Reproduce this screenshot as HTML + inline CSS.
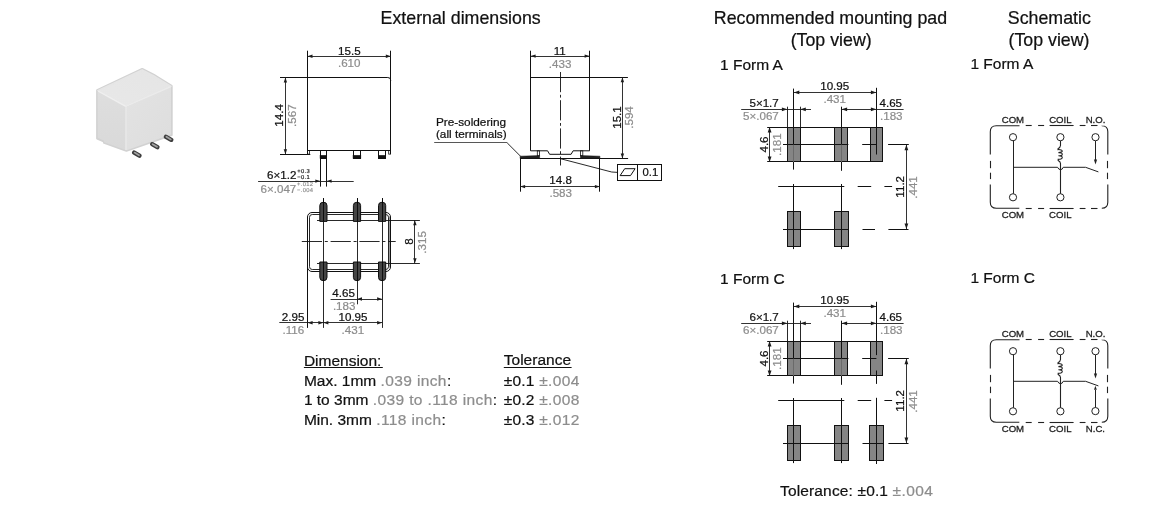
<!DOCTYPE html>
<html><head><meta charset="utf-8"><style>
html,body{margin:0;padding:0;background:#fff;}
body{width:1167px;height:522px;overflow:hidden;}
svg{display:block;font-family:"Liberation Sans", sans-serif;will-change:transform;}
</style></head><body>
<svg width="1167" height="522" viewBox="0 0 1167 522">
<rect x="0" y="0" width="1167" height="522" fill="#fff"/>
<text x="380.6" y="23.6" font-size="17.8" fill="#111" stroke="#111" stroke-width="0.22" text-anchor="start" >External dimensions</text>
<text x="713.8" y="23.9" font-size="17.8" fill="#111" stroke="#111" stroke-width="0.22" text-anchor="start" >Recommended mounting pad</text>
<text x="831.2" y="45.5" font-size="17.8" fill="#111" stroke="#111" stroke-width="0.22" text-anchor="middle" >(Top view)</text>
<text x="1007.8" y="23.8" font-size="17.8" fill="#111" stroke="#111" stroke-width="0.22" text-anchor="start" >Schematic</text>
<text x="1049" y="45.7" font-size="17.8" fill="#111" stroke="#111" stroke-width="0.22" text-anchor="middle" >(Top view)</text>
<defs>
<filter id="soft" x="-10%" y="-10%" width="120%" height="120%"><feGaussianBlur stdDeviation="0.5"/></filter>
<linearGradient id="gl" x1="0" y1="0" x2="0" y2="1"><stop offset="0" stop-color="#dedede"/><stop offset="1" stop-color="#d9d9d9"/></linearGradient>
<linearGradient id="gr" x1="0" y1="0" x2="1" y2="1"><stop offset="0" stop-color="#e3e3e3"/><stop offset="1" stop-color="#dddddd"/></linearGradient>
<linearGradient id="gt" x1="0" y1="1" x2="1" y2="0"><stop offset="0" stop-color="#e8e8e8"/><stop offset="1" stop-color="#e5e5e5"/></linearGradient>
</defs>
<g filter="url(#soft)">
<path d="M97.2,90.2 L142.2,69 L154,75 L157.5,77.2 L171.6,86 L171.6,135 L126.4,150.6 L104.2,142.8 L103.6,141.2 L97.2,138.4 Z" fill="#d2d2d2" stroke="#d2d2d2" stroke-width="2.2" stroke-linejoin="round"/>
<polygon points="97.8,90.6 142.2,69.8 153.8,75.8 157.4,78 171,86.4 125.6,106.2" fill="url(#gt)" stroke="#e6e6e6" stroke-width="1.4" stroke-linejoin="round"/>
<polygon points="97.6,91.4 125.3,106.6 125.6,150 104.4,142.2 103.8,140.6 97.8,137.8" fill="url(#gl)"/>
<polygon points="126.6,106.8 171,86.8 171,134.6 126.6,150.2" fill="url(#gr)"/>
<line x1="126" y1="106.6" x2="126" y2="150" stroke="#ececec" stroke-width="1.4"/>
<line x1="98.2" y1="91.2" x2="125.8" y2="106.4" stroke="#efefef" stroke-width="1.4"/>
<line x1="125.8" y1="106.4" x2="170.8" y2="86.6" stroke="#ebebeb" stroke-width="1.2"/>
</g>
<g filter="url(#soft)" stroke-linecap="round">
<line x1="134.2" y1="152.6" x2="139.4" y2="155.6" stroke="#3e3e3e" stroke-width="4.4"/>
<line x1="152.2" y1="144.2" x2="157.4" y2="147.2" stroke="#3e3e3e" stroke-width="4.4"/>
<line x1="166" y1="136.8" x2="171.2" y2="139.8" stroke="#3e3e3e" stroke-width="4.4"/>
<line x1="134.6" y1="152.6" x2="139" y2="155.2" stroke="#a0a0a0" stroke-width="1.8"/>
<line x1="152.6" y1="144.2" x2="157" y2="146.8" stroke="#a0a0a0" stroke-width="1.8"/>
<line x1="166.4" y1="136.8" x2="170.8" y2="139.4" stroke="#a0a0a0" stroke-width="1.8"/>
</g>
<line x1="307.5" y1="50.7" x2="307.5" y2="154.3" stroke="#111" stroke-width="1.0" />
<line x1="390.5" y1="50.7" x2="390.5" y2="154.0" stroke="#111" stroke-width="1.0" />
<line x1="307.5" y1="56.5" x2="390.8" y2="56.5" stroke="#1c1c1c" stroke-width="0.9" />
<polygon points="307.50,56.30 312.50,54.60 312.50,58.00" fill="#1c1c1c"/>
<polygon points="390.80,56.30 385.80,54.60 385.80,58.00" fill="#1c1c1c"/>
<text x="349.4" y="54.9" font-size="11.6" fill="#111" stroke="#111" stroke-width="0.22" text-anchor="middle" >15.5</text>
<text x="349.2" y="67.3" font-size="11.6" fill="#8d8d8d" stroke="#8d8d8d" stroke-width="0.22" text-anchor="middle" >.610</text>
<path d="M280,77.5 H387.8 Q390.8,77.5 390.8,80.5" fill="none" stroke="#111" stroke-width="1"/>
<line x1="285.5" y1="77.5" x2="285.5" y2="154.3" stroke="#1c1c1c" stroke-width="0.9" />
<polygon points="285.40,77.50 283.70,82.50 287.10,82.50" fill="#1c1c1c"/>
<polygon points="285.40,154.30 283.70,149.30 287.10,149.30" fill="#1c1c1c"/>
<line x1="280" y1="154.5" x2="310.3" y2="154.5" stroke="#111" stroke-width="1.0" />
<text x="0" y="0" font-size="11.6" fill="#111" stroke="#111" stroke-width="0.22" text-anchor="middle" transform="translate(283.2,115.4) rotate(-90)">14.4</text>
<text x="0" y="0" font-size="11.6" fill="#8d8d8d" stroke="#8d8d8d" stroke-width="0.22" text-anchor="middle" transform="translate(296.1,115.6) rotate(-90)">.567</text>
<line x1="307.5" y1="150.5" x2="390.8" y2="150.5" stroke="#111" stroke-width="1.0" />
<rect x="307.5" y="150.5" width="1.9" height="3.6" rx="0" fill="none" stroke="#111" stroke-width="0.8" />
<rect x="388.7" y="150.5" width="1.9" height="3.6" rx="0" fill="none" stroke="#111" stroke-width="0.8" />
<rect x="320.5" y="150.5" width="6.0" height="8.0" rx="0" fill="none" stroke="#111" stroke-width="1" />
<rect x="320.1" y="155.4" width="6.5" height="3.0" rx="0" fill="#111" stroke="#111" stroke-width="0.6" />
<rect x="353.5" y="150.5" width="7.0" height="8.0" rx="0" fill="none" stroke="#111" stroke-width="1" />
<rect x="353.1" y="155.4" width="7.699999999999989" height="3.0" rx="0" fill="#111" stroke="#111" stroke-width="0.6" />
<rect x="378.5" y="150.5" width="7.0" height="8.0" rx="0" fill="none" stroke="#111" stroke-width="1" />
<rect x="378.4" y="155.4" width="7.300000000000011" height="3.0" rx="0" fill="#111" stroke="#111" stroke-width="0.6" />
<line x1="320.5" y1="158.4" x2="320.5" y2="186.6" stroke="#111" stroke-width="1.0" />
<line x1="326.5" y1="158.4" x2="326.5" y2="186.6" stroke="#111" stroke-width="1.0" />
<line x1="258.1" y1="181.5" x2="353.7" y2="181.5" stroke="#1c1c1c" stroke-width="0.9" />
<polygon points="320.30,181.10 315.30,179.40 315.30,182.80" fill="#1c1c1c"/>
<polygon points="326.60,181.10 331.60,179.40 331.60,182.80" fill="#1c1c1c"/>
<text x="267" y="179.1" font-size="11.6" fill="#111" stroke="#111" stroke-width="0.22" text-anchor="start" >6×1.2</text>
<text x="297.2" y="172.6" font-size="5.8" fill="#111" stroke="#111" stroke-width="0.15" text-anchor="start" letter-spacing="0.35" text-rendering="geometricPrecision">+0.3</text>
<text x="297.2" y="178.5" font-size="5.8" fill="#111" stroke="#111" stroke-width="0.15" text-anchor="start" letter-spacing="0.35" text-rendering="geometricPrecision">−0.1</text>
<text x="260.5" y="193.1" font-size="11.6" fill="#8d8d8d" stroke="#8d8d8d" stroke-width="0.22" text-anchor="start" >6×.047</text>
<text x="297.0" y="186.3" font-size="5.8" fill="#8d8d8d" stroke="#8d8d8d" stroke-width="0.15" text-anchor="start" letter-spacing="0.35" text-rendering="geometricPrecision">+.012</text>
<text x="297.0" y="191.8" font-size="5.8" fill="#8d8d8d" stroke="#8d8d8d" stroke-width="0.15" text-anchor="start" letter-spacing="0.35" text-rendering="geometricPrecision">−.004</text>
<line x1="530.5" y1="50.7" x2="530.5" y2="150.8" stroke="#111" stroke-width="1.0" />
<line x1="589.5" y1="50.7" x2="589.5" y2="150.8" stroke="#111" stroke-width="1.0" />
<line x1="530.6" y1="56.5" x2="589.6" y2="56.5" stroke="#1c1c1c" stroke-width="0.9" />
<polygon points="530.60,56.10 535.60,54.40 535.60,57.80" fill="#1c1c1c"/>
<polygon points="589.60,56.10 584.60,54.40 584.60,57.80" fill="#1c1c1c"/>
<text x="559.8" y="54.8" font-size="11.6" fill="#111" stroke="#111" stroke-width="0.22" text-anchor="middle" >11</text>
<text x="560.1" y="67.5" font-size="11.6" fill="#8d8d8d" stroke="#8d8d8d" stroke-width="0.22" text-anchor="middle" >.433</text>
<line x1="530.6" y1="77.5" x2="627.9" y2="77.5" stroke="#111" stroke-width="1.0" />
<line x1="560.5" y1="72" x2="560.5" y2="165.5" stroke="#111" stroke-width="0.9" stroke-dasharray="20.2 2.6 2.8 2.6"/>
<polyline points="530.6,150.8 547.6,150.8 549.6,154.3 571.1,154.3 573.1,150.8 589.6,150.8" stroke="#111" stroke-width="1.0" fill="none" />
<rect x="537.3" y="150.8" width="2.3" height="5" rx="0" fill="none" stroke="#111" stroke-width="0.8" />
<rect x="580.5" y="150.8" width="2.3" height="5" rx="0" fill="none" stroke="#111" stroke-width="0.8" />
<line x1="520.1" y1="158.5" x2="628.1" y2="158.5" stroke="#111" stroke-width="1.0" />
<polygon points="520.1,158.4 520.1,156.2 539.6,155.6 539.6,158.4" stroke="#111" stroke-width="0.5" fill="#222" />
<polygon points="580.5,158.4 580.5,155.6 599.9,156.2 599.9,158.4" stroke="#111" stroke-width="0.5" fill="#222" />
<line x1="520.5" y1="158.4" x2="520.5" y2="191.7" stroke="#111" stroke-width="1.0" />
<line x1="599.5" y1="158.4" x2="599.5" y2="191.7" stroke="#111" stroke-width="1.0" />
<line x1="520.1" y1="186.5" x2="599.9" y2="186.5" stroke="#1c1c1c" stroke-width="0.9" />
<polygon points="520.10,186.60 525.10,184.90 525.10,188.30" fill="#1c1c1c"/>
<polygon points="599.90,186.60 594.90,184.90 594.90,188.30" fill="#1c1c1c"/>
<text x="560.6" y="184.1" font-size="11.6" fill="#111" stroke="#111" stroke-width="0.22" text-anchor="middle" >14.8</text>
<text x="560.7" y="197.1" font-size="11.6" fill="#8d8d8d" stroke="#8d8d8d" stroke-width="0.22" text-anchor="middle" >.583</text>
<line x1="622.5" y1="77.2" x2="622.5" y2="158.4" stroke="#1c1c1c" stroke-width="0.9" />
<polygon points="622.40,77.20 620.70,82.20 624.10,82.20" fill="#1c1c1c"/>
<polygon points="622.40,158.40 620.70,153.40 624.10,153.40" fill="#1c1c1c"/>
<text x="0" y="0" font-size="11.6" fill="#111" stroke="#111" stroke-width="0.22" text-anchor="middle" transform="translate(620.6,117.5) rotate(-90)">15.1</text>
<text x="0" y="0" font-size="11.6" fill="#8d8d8d" stroke="#8d8d8d" stroke-width="0.22" text-anchor="middle" transform="translate(633.0,117.5) rotate(-90)">.594</text>
<text x="435.9" y="126.3" font-size="11.8" fill="#111" stroke="#111" stroke-width="0.22" text-anchor="start" >Pre-soldering</text>
<text x="435.9" y="137.8" font-size="11.8" fill="#111" stroke="#111" stroke-width="0.22" text-anchor="start" >(all terminals)</text>
<line x1="434.2" y1="142.5" x2="507.2" y2="142.5" stroke="#444" stroke-width="0.9" />
<line x1="507.2" y1="142.9" x2="520.4" y2="156.1" stroke="#111" stroke-width="0.9" />
<path d="M560.1,158.6 L607,170.8 Q611,172.4 617.8,172.4" fill="none" stroke="#111" stroke-width="0.9"/>
<rect x="617.5" y="164.5" width="44.0" height="16.0" rx="0" fill="none" stroke="#111" stroke-width="1" />
<line x1="637.5" y1="164.4" x2="637.5" y2="180.2" stroke="#111" stroke-width="1.0" />
<polygon points="620.1,175.6 624.7,168.7 635.1,168.7 630.5,175.6" stroke="#111" stroke-width="1.0" fill="none" />
<text x="642.5" y="176.2" font-size="11.3" fill="#111" stroke="#111" stroke-width="0.22" text-anchor="start" >0.1</text>
<rect x="388.6" y="216.5" width="2" height="51" fill="#9a9a9a"/>
<rect x="307.5" y="212.5" width="83.0" height="59.0" rx="4.5" fill="none" stroke="#111" stroke-width="1" />
<rect x="309.5" y="214.5" width="79.0" height="55.0" rx="2.8" fill="none" stroke="#111" stroke-width="0.9" />
<line x1="307.5" y1="266" x2="307.5" y2="327.9" stroke="#111" stroke-width="1.0" />
<line x1="323.5" y1="198.1" x2="323.5" y2="327.9" stroke="#111" stroke-width="0.9" />
<line x1="357.5" y1="198.1" x2="357.5" y2="304.3" stroke="#111" stroke-width="0.9" />
<line x1="382.5" y1="198.1" x2="382.5" y2="327.9" stroke="#111" stroke-width="0.9" />
<line x1="317" y1="220.5" x2="419.9" y2="220.5" stroke="#111" stroke-width="0.9" />
<line x1="317" y1="263.5" x2="419.9" y2="263.5" stroke="#111" stroke-width="0.9" />
<line x1="301.8" y1="241.5" x2="395.7" y2="241.5" stroke="#111" stroke-width="0.9" stroke-dasharray="20.2 2.8 3 2.8"/>
<path d="M319.79999999999995,221.4 V205.5 Q319.79999999999995,202.2 323.4,202.2 Q327.0,202.2 327.0,205.5 V221.4 Z" fill="#454545" stroke="#111" stroke-width="1"/>
<path d="M319.79999999999995,262.0 V277.4 Q319.79999999999995,280.7 323.4,280.7 Q327.0,280.7 327.0,277.4 V262.0 Z" fill="#454545" stroke="#111" stroke-width="1"/>
<line x1="323.5" y1="198.1" x2="323.5" y2="221.4" stroke="#000" stroke-width="0.8" />
<line x1="323.5" y1="262" x2="323.5" y2="281" stroke="#000" stroke-width="0.8" />
<path d="M353.4,221.4 V205.5 Q353.4,202.2 357.0,202.2 Q360.6,202.2 360.6,205.5 V221.4 Z" fill="#454545" stroke="#111" stroke-width="1"/>
<path d="M353.4,262.0 V277.4 Q353.4,280.7 357.0,280.7 Q360.6,280.7 360.6,277.4 V262.0 Z" fill="#454545" stroke="#111" stroke-width="1"/>
<line x1="357.5" y1="198.1" x2="357.5" y2="221.4" stroke="#000" stroke-width="0.8" />
<line x1="357.5" y1="262" x2="357.5" y2="281" stroke="#000" stroke-width="0.8" />
<path d="M378.5,221.4 V205.5 Q378.5,202.2 382.1,202.2 Q385.70000000000005,202.2 385.70000000000005,205.5 V221.4 Z" fill="#454545" stroke="#111" stroke-width="1"/>
<path d="M378.5,262.0 V277.4 Q378.5,280.7 382.1,280.7 Q385.70000000000005,280.7 385.70000000000005,277.4 V262.0 Z" fill="#454545" stroke="#111" stroke-width="1"/>
<line x1="382.5" y1="198.1" x2="382.5" y2="221.4" stroke="#000" stroke-width="0.8" />
<line x1="382.5" y1="262" x2="382.5" y2="281" stroke="#000" stroke-width="0.8" />
<line x1="414.5" y1="220.2" x2="414.5" y2="263.3" stroke="#1c1c1c" stroke-width="0.9" />
<polygon points="414.90,220.20 413.20,225.20 416.60,225.20" fill="#1c1c1c"/>
<polygon points="414.90,263.30 413.20,258.30 416.60,258.30" fill="#1c1c1c"/>
<text x="0" y="0" font-size="11.6" fill="#111" stroke="#111" stroke-width="0.22" text-anchor="middle" transform="translate(413.0,241.5) rotate(-90)">8</text>
<text x="0" y="0" font-size="11.6" fill="#8d8d8d" stroke="#8d8d8d" stroke-width="0.22" text-anchor="middle" transform="translate(426.3,242.4) rotate(-90)">.315</text>
<line x1="330.6" y1="299.5" x2="382.1" y2="299.5" stroke="#1c1c1c" stroke-width="0.9" />
<polygon points="357.00,299.00 362.00,297.30 362.00,300.70" fill="#1c1c1c"/>
<polygon points="382.10,299.00 377.10,297.30 377.10,300.70" fill="#1c1c1c"/>
<text x="332.3" y="297.1" font-size="11.6" fill="#111" stroke="#111" stroke-width="0.22" text-anchor="start" >4.65</text>
<text x="332.9" y="309.9" font-size="11.6" fill="#8d8d8d" stroke="#8d8d8d" stroke-width="0.22" text-anchor="start" >.183</text>
<line x1="279.3" y1="322.5" x2="382.1" y2="322.5" stroke="#1c1c1c" stroke-width="0.9" />
<polygon points="307.60,322.70 312.60,321.00 312.60,324.40" fill="#1c1c1c"/>
<polygon points="323.40,322.70 318.40,321.00 318.40,324.40" fill="#1c1c1c"/>
<polygon points="323.40,322.70 328.40,321.00 328.40,324.40" fill="#1c1c1c"/>
<polygon points="382.10,322.70 377.10,321.00 377.10,324.40" fill="#1c1c1c"/>
<text x="281.8" y="321.2" font-size="11.6" fill="#111" stroke="#111" stroke-width="0.22" text-anchor="start" >2.95</text>
<text x="282.5" y="334.0" font-size="11.6" fill="#8d8d8d" stroke="#8d8d8d" stroke-width="0.22" text-anchor="start" >.116</text>
<text x="338.5" y="321.2" font-size="11.6" fill="#111" stroke="#111" stroke-width="0.22" text-anchor="start" >10.95</text>
<text x="341.6" y="334.0" font-size="11.6" fill="#8d8d8d" stroke="#8d8d8d" stroke-width="0.22" text-anchor="start" >.431</text>
<text x="303.9" y="365.7" font-size="15.5" fill="#111" stroke="#111" stroke-width="0.22" text-anchor="start" >Dimension:</text>
<line x1="303.9" y1="367.5" x2="382.8" y2="367.5" stroke="#111" stroke-width="1.0" />
<text x="503.8" y="365.4" font-size="15.5" fill="#111" stroke="#111" stroke-width="0.22" text-anchor="start" >Tolerance</text>
<line x1="503.8" y1="367.5" x2="571.6" y2="367.5" stroke="#111" stroke-width="1.0" />
<text x="303.9" y="385.5" font-size="15.5" fill="#111" stroke="#111" stroke-width="0.22" text-anchor="start" >Max. 1mm <tspan fill="#8d8d8d" stroke="#8d8d8d" letter-spacing="0.38">.039 inch</tspan>:</text>
<text x="303.9" y="405.3" font-size="15.5" fill="#111" stroke="#111" stroke-width="0.22" text-anchor="start" >1 to 3mm <tspan fill="#8d8d8d" stroke="#8d8d8d" letter-spacing="0.38">.039 to .118 inch</tspan>:</text>
<text x="303.9" y="424.9" font-size="15.5" fill="#111" stroke="#111" stroke-width="0.22" text-anchor="start" >Min. 3mm <tspan fill="#8d8d8d" stroke="#8d8d8d" letter-spacing="0.38">.118 inch</tspan>:</text>
<text x="503.8" y="385.5" font-size="15.5" fill="#111" stroke="#111" stroke-width="0.22" text-anchor="start" ><tspan letter-spacing="0.2">±0.1 </tspan><tspan fill="#8d8d8d" stroke="#8d8d8d" letter-spacing="0.35">±.004</tspan></text>
<text x="503.8" y="405.3" font-size="15.5" fill="#111" stroke="#111" stroke-width="0.22" text-anchor="start" ><tspan letter-spacing="0.2">±0.2 </tspan><tspan fill="#8d8d8d" stroke="#8d8d8d" letter-spacing="0.35">±.008</tspan></text>
<text x="503.8" y="424.9" font-size="15.5" fill="#111" stroke="#111" stroke-width="0.22" text-anchor="start" ><tspan letter-spacing="0.2">±0.3 </tspan><tspan fill="#8d8d8d" stroke="#8d8d8d" letter-spacing="0.35">±.012</tspan></text>
<text x="780" y="495.5" font-size="15.5" fill="#111" stroke="#111" stroke-width="0.22" text-anchor="start" ><tspan letter-spacing="0.15">Tolerance: ±0.1 </tspan><tspan fill="#8d8d8d" stroke="#8d8d8d" letter-spacing="0.4">±.004</tspan></text>
<text x="720" y="69.5" font-size="15.5" fill="#111" stroke="#111" stroke-width="0.22" text-anchor="start" >1 Form A</text>
<rect x="787.5" y="127.5" width="13.0" height="34.0" rx="0" fill="#858585" stroke="#111" stroke-width="1.0" />
<rect x="834.5" y="127.5" width="13.0" height="34.0" rx="0" fill="#858585" stroke="#111" stroke-width="1.0" />
<rect x="870.5" y="127.5" width="12.0" height="34.0" rx="0" fill="#858585" stroke="#111" stroke-width="1.0" />
<rect x="787.5" y="211.5" width="13.0" height="35.0" rx="0" fill="#858585" stroke="#111" stroke-width="1.0" />
<rect x="834.5" y="211.5" width="14.0" height="35.0" rx="0" fill="#858585" stroke="#111" stroke-width="1.0" />
<line x1="767.2" y1="127.5" x2="882.9" y2="127.5" stroke="#111" stroke-width="1.0" />
<line x1="767.2" y1="161.5" x2="882.9" y2="161.5" stroke="#111" stroke-width="1.0" />
<line x1="783.0" y1="144.5" x2="848.4" y2="144.5" stroke="#111" stroke-width="1.0" />
<line x1="862.2" y1="144.5" x2="876.4" y2="144.5" stroke="#111" stroke-width="1.0" />
<line x1="888.1" y1="144.5" x2="908.8" y2="144.5" stroke="#111" stroke-width="1.0" />
<line x1="793.5" y1="88.6" x2="793.5" y2="144.7" stroke="#111" stroke-width="1.0" />
<line x1="793.5" y1="161.9" x2="793.5" y2="169.6" stroke="#111" stroke-width="1.0" />
<line x1="793.5" y1="144.7" x2="793.5" y2="161.9" stroke="#6a6a6a" stroke-width="1" />
<line x1="841.5" y1="106.7" x2="841.5" y2="144.7" stroke="#111" stroke-width="1.0" />
<line x1="841.5" y1="161.9" x2="841.5" y2="170.8" stroke="#111" stroke-width="1.0" />
<line x1="841.5" y1="144.7" x2="841.5" y2="161.9" stroke="#6a6a6a" stroke-width="1" />
<line x1="876.5" y1="87.8" x2="876.5" y2="154.5" stroke="#111" stroke-width="1.0" />
<line x1="787.5" y1="106.7" x2="787.5" y2="127.1" stroke="#111" stroke-width="0.9" />
<line x1="800.5" y1="106.7" x2="800.5" y2="127.1" stroke="#111" stroke-width="0.9" />
<line x1="741.2" y1="109.5" x2="811.0" y2="109.5" stroke="#1c1c1c" stroke-width="0.9" />
<polygon points="787.40,109.30 781.90,107.40 781.90,111.20" fill="#1c1c1c"/>
<polygon points="800.30,109.30 805.80,107.40 805.80,111.20" fill="#1c1c1c"/>
<line x1="793.8" y1="92.5" x2="876.4" y2="92.5" stroke="#1c1c1c" stroke-width="0.9" />
<polygon points="793.80,92.40 799.30,90.50 799.30,94.30" fill="#1c1c1c"/>
<polygon points="876.40,92.40 870.90,90.50 870.90,94.30" fill="#1c1c1c"/>
<line x1="841.6" y1="109.5" x2="903.6" y2="109.5" stroke="#1c1c1c" stroke-width="0.9" />
<polygon points="841.60,109.30 847.10,107.40 847.10,111.20" fill="#1c1c1c"/>
<polygon points="876.40,109.30 870.90,107.40 870.90,111.20" fill="#1c1c1c"/>
<line x1="769.5" y1="127.1" x2="769.5" y2="161.9" stroke="#1c1c1c" stroke-width="0.9" />
<polygon points="769.60,127.10 767.70,132.60 771.50,132.60" fill="#1c1c1c"/>
<polygon points="769.60,161.90 767.70,156.40 771.50,156.40" fill="#1c1c1c"/>
<line x1="906.5" y1="144.7" x2="906.5" y2="229.0" stroke="#1c1c1c" stroke-width="0.9" />
<polygon points="906.40,144.70 904.50,150.20 908.30,150.20" fill="#1c1c1c"/>
<polygon points="906.40,229.00 904.50,223.50 908.30,223.50" fill="#1c1c1c"/>
<line x1="778.2" y1="186.5" x2="844.3" y2="186.5" stroke="#111" stroke-width="1.0" />
<line x1="857.7" y1="186.5" x2="871.2" y2="186.5" stroke="#111" stroke-width="1.0" />
<line x1="884.4" y1="186.5" x2="892.1" y2="186.5" stroke="#111" stroke-width="1.0" />
<line x1="793.5" y1="184.0" x2="793.5" y2="249.1" stroke="#111" stroke-width="1.0" />
<line x1="841.5" y1="184.0" x2="841.5" y2="249.1" stroke="#111" stroke-width="1.0" />
<line x1="783.0" y1="229.5" x2="848.2" y2="229.5" stroke="#111" stroke-width="1.0" />
<line x1="862.5" y1="229.5" x2="875.0" y2="229.5" stroke="#111" stroke-width="1.0" />
<line x1="888.4" y1="229.5" x2="908.5" y2="229.5" stroke="#111" stroke-width="1.0" />
<text x="834.7" y="89.7" font-size="11.6" fill="#111" stroke="#111" stroke-width="0.22" text-anchor="middle" >10.95</text>
<text x="834.7" y="103.1" font-size="11.6" fill="#8d8d8d" stroke="#8d8d8d" stroke-width="0.22" text-anchor="middle" >.431</text>
<text x="778.8" y="107.4" font-size="11.6" fill="#111" stroke="#111" stroke-width="0.22" text-anchor="end" >5×1.7</text>
<text x="778.8" y="120.0" font-size="11.6" fill="#8d8d8d" stroke="#8d8d8d" stroke-width="0.22" text-anchor="end" >5×.067</text>
<text x="879.5" y="107.1" font-size="11.6" fill="#111" stroke="#111" stroke-width="0.22" text-anchor="start" >4.65</text>
<text x="880.0" y="120.0" font-size="11.6" fill="#8d8d8d" stroke="#8d8d8d" stroke-width="0.22" text-anchor="start" >.183</text>
<text x="0" y="0" font-size="11.6" fill="#111" stroke="#111" stroke-width="0.22" text-anchor="middle" transform="translate(767.7,144.5) rotate(-90)">4.6</text>
<text x="0" y="0" font-size="11.6" fill="#8d8d8d" stroke="#8d8d8d" stroke-width="0.22" text-anchor="middle" transform="translate(780.7,144.7) rotate(-90)">.181</text>
<text x="0" y="0" font-size="11.6" fill="#111" stroke="#111" stroke-width="0.22" text-anchor="middle" transform="translate(904.0,186.8) rotate(-90)">11.2</text>
<text x="0" y="0" font-size="11.6" fill="#8d8d8d" stroke="#8d8d8d" stroke-width="0.22" text-anchor="middle" transform="translate(916.9,187.5) rotate(-90)">.441</text>
<text x="720" y="283.5" font-size="15.5" fill="#111" stroke="#111" stroke-width="0.22" text-anchor="start" >1 Form C</text>
<rect x="787.5" y="341.5" width="13.0" height="34.0" rx="0" fill="#858585" stroke="#111" stroke-width="1.0" />
<rect x="834.5" y="341.5" width="13.0" height="34.0" rx="0" fill="#858585" stroke="#111" stroke-width="1.0" />
<rect x="870.5" y="341.5" width="12.0" height="34.0" rx="0" fill="#858585" stroke="#111" stroke-width="1.0" />
<rect x="787.5" y="425.5" width="13.0" height="35.0" rx="0" fill="#858585" stroke="#111" stroke-width="1.0" />
<rect x="834.5" y="425.5" width="14.0" height="35.0" rx="0" fill="#858585" stroke="#111" stroke-width="1.0" />
<rect x="869.5" y="425.5" width="14.0" height="35.0" rx="0" fill="#858585" stroke="#111" stroke-width="1.0" />
<line x1="767.2" y1="341.5" x2="882.9" y2="341.5" stroke="#111" stroke-width="1.0" />
<line x1="767.2" y1="375.5" x2="882.9" y2="375.5" stroke="#111" stroke-width="1.0" />
<line x1="783.0" y1="358.5" x2="848.4" y2="358.5" stroke="#111" stroke-width="1.0" />
<line x1="862.2" y1="358.5" x2="876.4" y2="358.5" stroke="#111" stroke-width="1.0" />
<line x1="888.1" y1="358.5" x2="908.8" y2="358.5" stroke="#111" stroke-width="1.0" />
<line x1="793.5" y1="302.6" x2="793.5" y2="358.7" stroke="#111" stroke-width="1.0" />
<line x1="793.5" y1="375.9" x2="793.5" y2="383.6" stroke="#111" stroke-width="1.0" />
<line x1="793.5" y1="358.7" x2="793.5" y2="375.9" stroke="#6a6a6a" stroke-width="1" />
<line x1="841.5" y1="320.7" x2="841.5" y2="358.7" stroke="#111" stroke-width="1.0" />
<line x1="841.5" y1="375.9" x2="841.5" y2="384.8" stroke="#111" stroke-width="1.0" />
<line x1="841.5" y1="358.7" x2="841.5" y2="375.9" stroke="#6a6a6a" stroke-width="1" />
<line x1="876.5" y1="301.8" x2="876.5" y2="355.1" stroke="#111" stroke-width="1.0" />
<line x1="876.5" y1="370.5" x2="876.5" y2="383.9" stroke="#111" stroke-width="1.0" />
<line x1="787.5" y1="320.7" x2="787.5" y2="341.1" stroke="#111" stroke-width="0.9" />
<line x1="800.5" y1="320.7" x2="800.5" y2="341.1" stroke="#111" stroke-width="0.9" />
<line x1="741.2" y1="323.5" x2="811.0" y2="323.5" stroke="#1c1c1c" stroke-width="0.9" />
<polygon points="787.40,323.30 781.90,321.40 781.90,325.20" fill="#1c1c1c"/>
<polygon points="800.30,323.30 805.80,321.40 805.80,325.20" fill="#1c1c1c"/>
<line x1="793.8" y1="306.5" x2="876.4" y2="306.5" stroke="#1c1c1c" stroke-width="0.9" />
<polygon points="793.80,306.40 799.30,304.50 799.30,308.30" fill="#1c1c1c"/>
<polygon points="876.40,306.40 870.90,304.50 870.90,308.30" fill="#1c1c1c"/>
<line x1="841.6" y1="323.5" x2="903.6" y2="323.5" stroke="#1c1c1c" stroke-width="0.9" />
<polygon points="841.60,323.30 847.10,321.40 847.10,325.20" fill="#1c1c1c"/>
<polygon points="876.40,323.30 870.90,321.40 870.90,325.20" fill="#1c1c1c"/>
<line x1="769.5" y1="341.1" x2="769.5" y2="375.9" stroke="#1c1c1c" stroke-width="0.9" />
<polygon points="769.60,341.10 767.70,346.60 771.50,346.60" fill="#1c1c1c"/>
<polygon points="769.60,375.90 767.70,370.40 771.50,370.40" fill="#1c1c1c"/>
<line x1="906.5" y1="358.7" x2="906.5" y2="443.0" stroke="#1c1c1c" stroke-width="0.9" />
<polygon points="906.40,358.70 904.50,364.20 908.30,364.20" fill="#1c1c1c"/>
<polygon points="906.40,443.00 904.50,437.50 908.30,437.50" fill="#1c1c1c"/>
<line x1="778.2" y1="400.5" x2="844.3" y2="400.5" stroke="#111" stroke-width="1.0" />
<line x1="857.7" y1="400.5" x2="871.2" y2="400.5" stroke="#111" stroke-width="1.0" />
<line x1="884.4" y1="400.5" x2="892.1" y2="400.5" stroke="#111" stroke-width="1.0" />
<line x1="793.5" y1="398.0" x2="793.5" y2="463.1" stroke="#111" stroke-width="1.0" />
<line x1="841.5" y1="398.0" x2="841.5" y2="463.1" stroke="#111" stroke-width="1.0" />
<line x1="783.0" y1="443.5" x2="848.2" y2="443.5" stroke="#111" stroke-width="1.0" />
<line x1="876.5" y1="397.8" x2="876.5" y2="464.0" stroke="#111" stroke-width="1.0" />
<line x1="862.5" y1="443.5" x2="883.2" y2="443.5" stroke="#111" stroke-width="1.0" />
<line x1="888.4" y1="443.5" x2="908.5" y2="443.5" stroke="#111" stroke-width="1.0" />
<text x="834.7" y="303.7" font-size="11.6" fill="#111" stroke="#111" stroke-width="0.22" text-anchor="middle" >10.95</text>
<text x="834.7" y="317.1" font-size="11.6" fill="#8d8d8d" stroke="#8d8d8d" stroke-width="0.22" text-anchor="middle" >.431</text>
<text x="778.8" y="321.4" font-size="11.6" fill="#111" stroke="#111" stroke-width="0.22" text-anchor="end" >6×1.7</text>
<text x="778.8" y="334.0" font-size="11.6" fill="#8d8d8d" stroke="#8d8d8d" stroke-width="0.22" text-anchor="end" >6×.067</text>
<text x="879.5" y="321.1" font-size="11.6" fill="#111" stroke="#111" stroke-width="0.22" text-anchor="start" >4.65</text>
<text x="880.0" y="334.0" font-size="11.6" fill="#8d8d8d" stroke="#8d8d8d" stroke-width="0.22" text-anchor="start" >.183</text>
<text x="0" y="0" font-size="11.6" fill="#111" stroke="#111" stroke-width="0.22" text-anchor="middle" transform="translate(767.7,358.5) rotate(-90)">4.6</text>
<text x="0" y="0" font-size="11.6" fill="#8d8d8d" stroke="#8d8d8d" stroke-width="0.22" text-anchor="middle" transform="translate(780.7,358.7) rotate(-90)">.181</text>
<text x="0" y="0" font-size="11.6" fill="#111" stroke="#111" stroke-width="0.22" text-anchor="middle" transform="translate(904.0,400.8) rotate(-90)">11.2</text>
<text x="0" y="0" font-size="11.6" fill="#8d8d8d" stroke="#8d8d8d" stroke-width="0.22" text-anchor="middle" transform="translate(916.9,401.5) rotate(-90)">.441</text>
<text x="970.4" y="69.3" font-size="15.5" fill="#111" stroke="#111" stroke-width="0.22" text-anchor="start" >1 Form A</text>
<path d="M990.3,154.5 V131.8 Q990.3,125.8 996.3,125.8 H1019.5" fill="none" stroke="#222" stroke-width="1.1"/>
<path d="M1102,125.8 H1101.8 Q1107.8,125.8 1107.8,131.8 V154.5" fill="none" stroke="#222" stroke-width="1.1"/>
<path d="M990.3,184.5 V202.3 Q990.3,208.3 996.3,208.3 H1019.3" fill="none" stroke="#222" stroke-width="1.1"/>
<path d="M1102,208.3 H1101.8 Q1107.8,208.3 1107.8,202.3 V184.5" fill="none" stroke="#222" stroke-width="1.1"/>
<line x1="1025.7" y1="125.5" x2="1031.7" y2="125.5" stroke="#222" stroke-width="1.1" />
<line x1="1038.1" y1="125.5" x2="1044.1" y2="125.5" stroke="#222" stroke-width="1.1" />
<line x1="1049.6" y1="125.5" x2="1073.6" y2="125.5" stroke="#222" stroke-width="1.1" />
<line x1="1079.7" y1="125.5" x2="1085.5" y2="125.5" stroke="#222" stroke-width="1.1" />
<line x1="1091" y1="125.5" x2="1097.5" y2="125.5" stroke="#222" stroke-width="1.1" />
<line x1="1025.7" y1="208.5" x2="1031.7" y2="208.5" stroke="#222" stroke-width="1.1" />
<line x1="1038.1" y1="208.5" x2="1044.1" y2="208.5" stroke="#222" stroke-width="1.1" />
<line x1="1049.6" y1="208.5" x2="1073.6" y2="208.5" stroke="#222" stroke-width="1.1" />
<line x1="1079.7" y1="208.5" x2="1085.5" y2="208.5" stroke="#222" stroke-width="1.1" />
<line x1="1091" y1="208.5" x2="1097.5" y2="208.5" stroke="#222" stroke-width="1.1" />
<line x1="990.5" y1="160.9" x2="990.5" y2="168.2" stroke="#222" stroke-width="1.1" />
<line x1="990.5" y1="172.7" x2="990.5" y2="179.1" stroke="#222" stroke-width="1.1" />
<line x1="1107.5" y1="160.9" x2="1107.5" y2="168.2" stroke="#222" stroke-width="1.1" />
<line x1="1107.5" y1="172.7" x2="1107.5" y2="179.1" stroke="#222" stroke-width="1.1" />
<text x="1012.9" y="122.6" font-size="9.6" fill="#222" stroke="#222" stroke-width="0.28" text-anchor="middle" >COM</text>
<text x="1060.4" y="122.6" font-size="9.6" fill="#222" stroke="#222" stroke-width="0.28" text-anchor="middle" >COIL</text>
<text x="1095.5" y="122.6" font-size="9.6" fill="#222" stroke="#222" stroke-width="0.28" text-anchor="middle" >N.O.</text>
<text x="1012.9" y="217.5" font-size="9.6" fill="#222" stroke="#222" stroke-width="0.28" text-anchor="middle" >COM</text>
<text x="1060.3" y="217.5" font-size="9.6" fill="#222" stroke="#222" stroke-width="0.28" text-anchor="middle" >COIL</text>
<circle cx="1013" cy="137.2" r="3.6" fill="#fff" stroke="#222" stroke-width="1"/>
<circle cx="1060.4" cy="137.2" r="3.6" fill="#fff" stroke="#222" stroke-width="1"/>
<circle cx="1095.5" cy="137.2" r="3.6" fill="#fff" stroke="#222" stroke-width="1"/>
<circle cx="1013" cy="197.3" r="3.6" fill="#fff" stroke="#222" stroke-width="1"/>
<circle cx="1060.4" cy="197.3" r="3.6" fill="#fff" stroke="#222" stroke-width="1"/>
<line x1="1013.5" y1="140.8" x2="1013.5" y2="193.7" stroke="#222" stroke-width="1" />
<path d="M1013,167.3 H1057.6 L1059,169.3 H1062 L1063.2,167.3 H1085.6 L1098.4,171.9" fill="none" stroke="#222" stroke-width="1"/>
<path d="M1060.5,140.8 V145.5 Q1060.3,147.6 1058,148.8 V149.6 C1063.6,149.2 1063.6,152.6 1058.4,152.6 C1063.6,152.4 1063.6,155.8 1058.4,155.8 C1063.6,155.6 1063.6,159.2 1058.2,159.2 V160.6 Q1060.5,161.8 1060.5,163.6 V193.7" fill="none" stroke="#222" stroke-width="1.1"/>
<line x1="1095.5" y1="140.8" x2="1095.5" y2="160" stroke="#222" stroke-width="1" />
<polygon points="1095.50,164.40 1093.90,159.40 1097.10,159.40" fill="#222"/>
<text x="970.4" y="283.3" font-size="15.5" fill="#111" stroke="#111" stroke-width="0.22" text-anchor="start" >1 Form C</text>
<path d="M990.3,368.5 V345.8 Q990.3,339.8 996.3,339.8 H1019.5" fill="none" stroke="#222" stroke-width="1.1"/>
<path d="M1102,339.8 H1101.8 Q1107.8,339.8 1107.8,345.8 V368.5" fill="none" stroke="#222" stroke-width="1.1"/>
<path d="M990.3,398.5 V416.3 Q990.3,422.3 996.3,422.3 H1019.3" fill="none" stroke="#222" stroke-width="1.1"/>
<path d="M1102,422.3 H1101.8 Q1107.8,422.3 1107.8,416.3 V398.5" fill="none" stroke="#222" stroke-width="1.1"/>
<line x1="1025.7" y1="339.5" x2="1031.7" y2="339.5" stroke="#222" stroke-width="1.1" />
<line x1="1038.1" y1="339.5" x2="1044.1" y2="339.5" stroke="#222" stroke-width="1.1" />
<line x1="1049.6" y1="339.5" x2="1073.6" y2="339.5" stroke="#222" stroke-width="1.1" />
<line x1="1079.7" y1="339.5" x2="1085.5" y2="339.5" stroke="#222" stroke-width="1.1" />
<line x1="1091" y1="339.5" x2="1097.5" y2="339.5" stroke="#222" stroke-width="1.1" />
<line x1="1025.7" y1="422.5" x2="1031.7" y2="422.5" stroke="#222" stroke-width="1.1" />
<line x1="1038.1" y1="422.5" x2="1044.1" y2="422.5" stroke="#222" stroke-width="1.1" />
<line x1="1049.6" y1="422.5" x2="1073.6" y2="422.5" stroke="#222" stroke-width="1.1" />
<line x1="1079.7" y1="422.5" x2="1085.5" y2="422.5" stroke="#222" stroke-width="1.1" />
<line x1="1091" y1="422.5" x2="1097.5" y2="422.5" stroke="#222" stroke-width="1.1" />
<line x1="990.5" y1="374.9" x2="990.5" y2="382.2" stroke="#222" stroke-width="1.1" />
<line x1="990.5" y1="386.7" x2="990.5" y2="393.1" stroke="#222" stroke-width="1.1" />
<line x1="1107.5" y1="374.9" x2="1107.5" y2="382.2" stroke="#222" stroke-width="1.1" />
<line x1="1107.5" y1="386.7" x2="1107.5" y2="393.1" stroke="#222" stroke-width="1.1" />
<text x="1012.9" y="336.6" font-size="9.6" fill="#222" stroke="#222" stroke-width="0.28" text-anchor="middle" >COM</text>
<text x="1060.4" y="336.6" font-size="9.6" fill="#222" stroke="#222" stroke-width="0.28" text-anchor="middle" >COIL</text>
<text x="1095.5" y="336.6" font-size="9.6" fill="#222" stroke="#222" stroke-width="0.28" text-anchor="middle" >N.O.</text>
<text x="1012.9" y="431.5" font-size="9.6" fill="#222" stroke="#222" stroke-width="0.28" text-anchor="middle" >COM</text>
<text x="1060.3" y="431.5" font-size="9.6" fill="#222" stroke="#222" stroke-width="0.28" text-anchor="middle" >COIL</text>
<text x="1095.4" y="431.5" font-size="9.6" fill="#222" stroke="#222" stroke-width="0.28" text-anchor="middle" >N.C.</text>
<circle cx="1013" cy="351.2" r="3.6" fill="#fff" stroke="#222" stroke-width="1"/>
<circle cx="1060.4" cy="351.2" r="3.6" fill="#fff" stroke="#222" stroke-width="1"/>
<circle cx="1095.5" cy="351.2" r="3.6" fill="#fff" stroke="#222" stroke-width="1"/>
<circle cx="1013" cy="411.3" r="3.6" fill="#fff" stroke="#222" stroke-width="1"/>
<circle cx="1060.4" cy="411.3" r="3.6" fill="#fff" stroke="#222" stroke-width="1"/>
<circle cx="1095.4" cy="411.1" r="3.6" fill="#fff" stroke="#222" stroke-width="1"/>
<line x1="1013.5" y1="354.8" x2="1013.5" y2="407.7" stroke="#222" stroke-width="1" />
<path d="M1013,381.3 H1057.6 L1059,383.3 H1062 L1063.2,381.3 H1085.6 L1098.4,385.9" fill="none" stroke="#222" stroke-width="1"/>
<path d="M1060.5,354.8 V359.5 Q1060.3,361.6 1058,362.8 V363.6 C1063.6,363.2 1063.6,366.6 1058.4,366.6 C1063.6,366.4 1063.6,369.8 1058.4,369.8 C1063.6,369.6 1063.6,373.2 1058.2,373.2 V374.6 Q1060.5,375.8 1060.5,377.6 V407.7" fill="none" stroke="#222" stroke-width="1.1"/>
<line x1="1095.5" y1="354.8" x2="1095.5" y2="374" stroke="#222" stroke-width="1" />
<polygon points="1095.50,378.40 1093.90,373.40 1097.10,373.40" fill="#222"/>
<line x1="1095.5" y1="407.5" x2="1095.5" y2="390" stroke="#222" stroke-width="1" />
<polygon points="1095.40,385.80 1094.00,389.80 1096.80,389.80" fill="#222"/>
</svg>
</body></html>
